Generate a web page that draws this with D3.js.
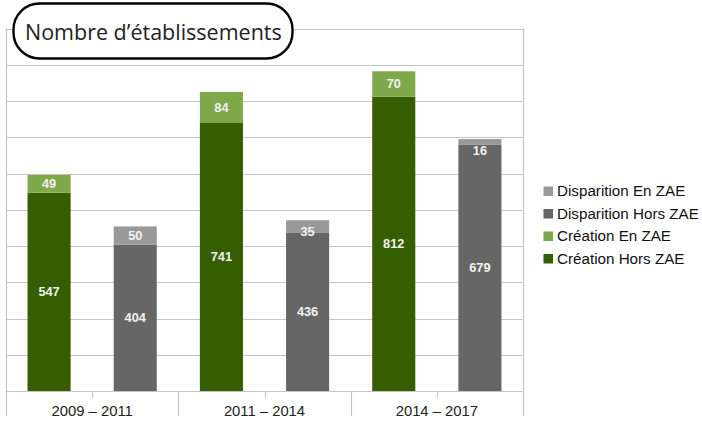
<!DOCTYPE html>
<html><head><meta charset="utf-8">
<script src="https://cdn.jsdelivr.net/npm/d3@7"></script>
<style>body{margin:0;background:#fff}svg{display:block}</style>
</head><body>
<svg id="c" width="702" height="423"></svg>
<script>
const categories = ["2009 – 2011", "2011 – 2014", "2014 – 2017"];
const creationHors = [547, 741, 812];
const creationEn = [49, 84, 70];
const disparitionHors = [404, 436, 679];
const disparitionEn = [50, 35, 16];
const yTicks = [0,100,200,300,400,500,600,700,800,900,1000];
const legendItems = ["Disparition En ZAE","Disparition Hors ZAE","Création En ZAE","Création Hors ZAE"];
const colors = {dispEn:"#999999", dispHors:"#666666", creaEn:"#7ea84a", creaHors:"#355e00"};
const legendColors = [colors.dispEn, colors.dispHors, colors.creaEn, colors.creaHors];

(function(){
const svg = d3.select("#c");
const pLeft = 6, pRight = 523, pTop = 28.5, pBottom = 391;
const x = d3.scaleBand().domain(categories).range([pLeft, pRight]);
const sub = d3.scaleBand().domain(["crea","disp"]).range([0, x.bandwidth()]);
const y = d3.scaleLinear().domain([0, 1000]).range([pBottom, pTop]);
const barW = sub.bandwidth() / 2;

svg.append("g").selectAll("line").data(yTicks).join("line")
  .attr("x1", pLeft).attr("x2", pRight)
  .attr("y1", d => Math.round(y(d)) + 0.5).attr("y2", d => Math.round(y(d)) + 0.5)
  .attr("stroke", "#c4c4c4").attr("stroke-width", 1.2);
[pLeft, pRight].forEach(xx => svg.append("line").attr("x1", xx + 0.5).attr("x2", xx + 0.5)
  .attr("y1", y(1000)).attr("y2", pBottom).attr("stroke", "#c4c4c4").attr("stroke-width", 1.2));

const seps = categories.map(c => x(c)).concat([pRight]);
svg.append("g").selectAll("line").data(seps).join("line")
  .attr("x1", d => Math.round(d) + 0.5).attr("x2", d => Math.round(d) + 0.5)
  .attr("y1", pBottom).attr("y2", 416).attr("stroke", "#c4c4c4").attr("stroke-width", 1.2);
svg.append("g").selectAll("line").data(categories).join("line")
  .attr("x1", d => Math.round(x(d) + x.bandwidth()/2) + 0.5).attr("x2", d => Math.round(x(d) + x.bandwidth()/2) + 0.5)
  .attr("y1", pBottom).attr("y2", 398).attr("stroke", "#c4c4c4").attr("stroke-width", 1.2);

svg.append("g").selectAll("text").data(categories).join("text")
  .attr("x", d => x(d) + x.bandwidth()/2).attr("y", 415.5)
  .attr("text-anchor", "middle").attr("font-family", "Liberation Sans, Arial, sans-serif")
  .attr("font-size", 14.8).attr("fill", "#222").text(d => d);

function segs(kind, lower, upper, cLow, cUp) {
  return categories.map((c, i) => ({c, kind, lower: lower[i], upper: upper[i], cLow, cUp}));
}
const data = segs("crea", creationHors, creationEn, colors.creaHors, colors.creaEn)
  .concat(segs("disp", disparitionHors, disparitionEn, colors.dispHors, colors.dispEn));

const g = svg.append("g");
data.forEach(d => {
  const bx = x(d.c) + sub(d.kind) + (sub.bandwidth() - barW) / 2;
  const yl = y(d.lower), yu = y(d.lower + d.upper);
  g.append("rect").attr("x", bx).attr("y", yl).attr("width", barW).attr("height", pBottom - yl).attr("fill", d.cLow);
  g.append("rect").attr("x", bx).attr("y", yu).attr("width", barW).attr("height", yl - yu).attr("fill", d.cUp);
  const lab = (v, y0, y1) => {
    const cy = (y1 - y0) < 15 ? y0 + 11 : (y0 + y1) / 2;
    g.append("text").attr("x", bx + barW/2).attr("y", cy)
      .attr("dy", "0.35em").attr("text-anchor", "middle")
      .attr("font-family", "Liberation Sans, Arial, sans-serif").attr("font-weight", "bold")
      .attr("font-size", 12.8).attr("fill", "#f2f2f2").text(v);
  };
  lab(d.lower, yl, pBottom);
  lab(d.upper, yu, yl);
});

const lg = svg.append("g");
legendItems.forEach((t, i) => {
  const cy = 191 + i * 22.5;
  lg.append("rect").attr("x", 543.5).attr("y", cy - 4.5).attr("width", 9.5).attr("height", 9.5).attr("fill", legendColors[i]);
  lg.append("text").attr("x", 557).attr("y", cy).attr("dy", "0.33em")
    .attr("font-family", "Liberation Sans, Arial, sans-serif").attr("font-size", 15.2)
    .attr("fill", "#111").text(t);
});

svg.append("rect").attr("x", 13.5).attr("y", 3.5).attr("width", 279).attr("height", 55)
  .attr("rx", 26).attr("ry", 26).attr("fill", "#fff").attr("stroke", "#000").attr("stroke-width", 2.4);
const title = svg.append("text").attr("x", 25).attr("y", 40)
  .attr("font-family", "Open Sans, Noto Sans, sans-serif").attr("font-size", 21.5)
  .attr("fill", "#222").text("Nombre d’établissements");
const tl = title.node().getComputedTextLength();
if (Math.abs(tl - 258) > 4) title.attr("textLength", 258).attr("lengthAdjust", "spacingAndGlyphs");
})();
</script>
</body></html>
